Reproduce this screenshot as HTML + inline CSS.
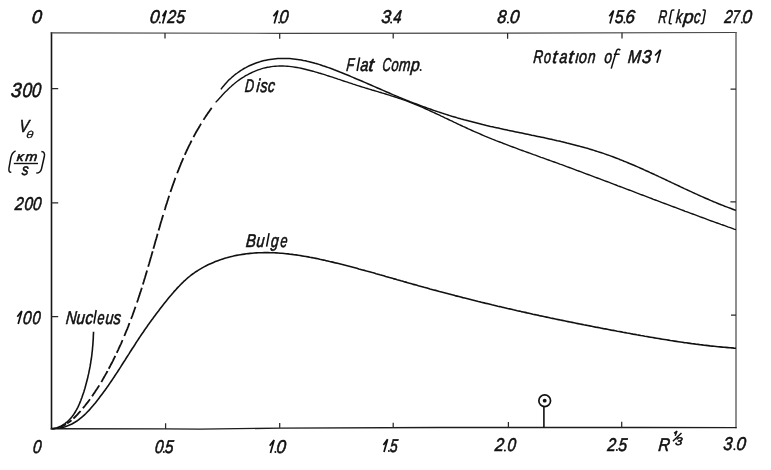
<!DOCTYPE html>
<html><head><meta charset="utf-8"><title>Rotation of M31</title>
<style>
html,body{margin:0;padding:0;background:#fff;}
body{width:771px;height:470px;overflow:hidden;font-family:"Liberation Sans",sans-serif;}
svg{display:block;will-change:transform;}
text{font-family:"Liberation Sans",sans-serif;font-style:italic;fill:#111;stroke:#111;stroke-width:0.6;}
.c{fill:none;stroke:#111;stroke-width:1.8;stroke-linecap:butt;stroke-linejoin:round;}
.f{fill:none;stroke:#333;stroke-width:1;}
</style></head><body>
<svg width="771" height="470" viewBox="0 0 771 470">
<rect width="771" height="470" fill="#fff"/>
<!-- frame -->
<path class="f" d="M51.5 429.5V32.3" style="stroke:#151515;stroke-width:1.6"/>
<path class="f" d="M50.7 32.8 L280 33.3 L507 33.1 L736.7 32.5" style="stroke:#444;stroke-width:1.2"/>
<path class="f" d="M736 32V428.2" style="stroke:#606060;stroke-width:1.4"/>
<path class="f" d="M50.7 428.8 L165 428.9 L200 429.1 L280 428.1 L440 427.5 L640 427.5 L736.7 427.6" style="stroke:#1c1c1c;stroke-width:1.4"/>
<!-- ticks -->
<path class="f" d="M165 33v5.6 M279.7 33.3v5.4 M393.2 33.2v5.4 M507.6 33.1v5.6 M622 32.8v5.6
 M165.6 428.9v-5.6 M279.7 428.1v-5 M393.2 427.7v-5 M508.4 427.5v-5.4 M621.7 427.5v-5.8
 M51.5 88.6h6.7 M51.5 202.9h6.7 M51.5 316.7h6.7
 M736 89.2h-5.5 M736 201.9h-5.6 M736 315.1h-5" style="stroke:#2a2a2a;stroke-width:1.25"/>
<!-- curves -->
<path class="c" d="M52.3 429.0 L53.9 428.7 L55.5 428.3 L57.0 427.8 L58.4 427.2 L59.8 426.6 L61.2 425.9 L62.5 425.2 L63.7 424.4 L65.0 423.6 L66.1 422.7 L67.2 421.8 L68.3 420.8 L69.3 419.8 L70.3 418.7 L71.3 417.6 L72.2 416.5 L73.1 415.3 L73.9 414.1 L74.8 412.8 L75.5 411.5 L76.3 410.2 L77.0 408.9 L77.7 407.6 L78.4 406.2 L79.0 404.8 L79.6 403.4 L80.2 401.9 L80.8 400.5 L81.3 399.0 L81.9 397.6 L82.4 396.1 L82.9 394.6 L83.4 393.2 L83.9 391.7 L84.3 390.2 L84.8 388.7 L85.2 387.2 L85.6 385.7 L86.0 384.3 L86.4 382.8 L86.8 381.3 L87.2 379.8 L87.6 378.3 L87.9 376.8 L88.2 375.4 L88.6 373.9 L88.9 372.4 L89.2 370.9 L89.5 369.4 L89.8 367.9 L90.1 366.4 L90.3 365.0 L90.6 363.5 L90.8 362.0 L91.0 360.5 L91.3 359.0 L91.5 357.5 L91.7 356.0 L91.9 354.5 L92.0 353.0 L92.2 351.5 L92.4 350.0 L92.5 348.5 L92.6 347.0 L92.8 345.5 L92.9 344.0 L93.0 342.5 L93.1 341.0 L93.2 339.4 L93.3 337.9 L93.3 336.4 L93.4 334.9 L93.5 333.4 L93.5 331.8" style="stroke-width:1.6"/>
<path class="c" d="M52.0 428.5 L54.2 428.4 L56.4 428.3 L58.5 428.1 L60.6 427.8 L62.6 427.4 L64.5 426.9 L66.4 426.3 L68.3 425.6 L70.1 424.8 L71.9 424.0 L73.6 423.0 L75.3 422.0 L76.9 421.0 L78.5 419.9 L80.0 418.7 L81.6 417.4 L83.0 416.2 L84.5 414.8 L85.9 413.5 L87.3 412.0 L88.7 410.6 L90.1 409.1 L91.4 407.6 L92.7 406.1 L94.0 404.5 L95.3 403.0 L96.5 401.4 L97.8 399.8 L99.0 398.2 L100.2 396.6 L101.4 395.0 L102.6 393.4 L103.8 391.8 L105.0 390.2 L106.2 388.6 L107.3 386.9 L108.5 385.3 L109.6 383.6 L110.7 382.0 L111.9 380.3 L113.0 378.6 L114.1 377.0 L115.2 375.3 L116.3 373.6 L117.4 372.0 L118.5 370.3 L119.6 368.6 L120.7 366.9 L121.7 365.2 L122.8 363.5 L123.9 361.8 L125.0 360.2 L126.0 358.5 L127.1 356.8 L128.2 355.1 L129.3 353.4 L130.3 351.7 L131.4 350.0 L132.5 348.3 L133.6 346.7 L134.7 345.0 L135.7 343.3 L136.8 341.6 L137.9 340.0 L139.0 338.3 L140.1 336.6 L141.2 335.0 L142.4 333.3 L143.5 331.7 L144.6 330.0 L145.7 328.4 L146.9 326.8 L148.0 325.1 L149.2 323.5 L150.3 321.9 L151.5 320.3 L152.7 318.7 L153.9 317.0 L155.1 315.4 L156.3 313.8 L157.5 312.2 L158.7 310.7 L159.9 309.1 L161.1 307.5 L162.3 305.9 L163.6 304.3 L164.8 302.8 L166.1 301.2 L167.4 299.6 L168.6 298.1 L169.9 296.5 L171.2 295.0 L172.5 293.4 L173.8 291.9 L175.2 290.4 L176.5 288.9 L177.9 287.4 L179.3 286.0 L180.7 284.5 L182.1 283.1 L183.5 281.7 L185.0 280.4 L186.5 279.0 L188.0 277.7 L189.5 276.5 L191.1 275.2 L192.7 274.0 L194.3 272.9 L195.9 271.7 L197.6 270.7 L199.3 269.6 L201.0 268.6 L202.7 267.6 L204.5 266.6 L206.2 265.7 L208.0 264.8 L209.8 264.0 L211.7 263.2 L213.5 262.4 L215.3 261.6 L217.2 260.9 L219.1 260.2 L221.0 259.6 L222.9 258.9 L224.8 258.3 L226.7 257.8 L228.7 257.2 L230.6 256.7 L232.6 256.3 L234.5 255.8 L236.5 255.4 L238.5 255.0 L240.4 254.7 L242.4 254.4 L244.4 254.1 L246.4 253.8 L248.3 253.6 L250.3 253.4 L252.3 253.2 L254.3 253.0 L256.3 252.9 L258.3 252.8 L260.2 252.7 L262.2 252.7 L264.2 252.6 L266.2 252.6 L268.2 252.6 L270.2 252.7 L272.2 252.7 L274.2 252.8 L276.2 252.9 L278.2 253.0 L280.1 253.2 L282.1 253.3 L284.1 253.5 L286.1 253.7 L288.1 253.9 L290.1 254.2 L292.1 254.4 L294.1 254.7 L296.1 254.9 L298.1 255.2 L300.1 255.5 L302.0 255.9 L304.0 256.2 L306.0 256.5 L308.0 256.9 L310.0 257.3 L311.9 257.6 L313.9 258.0 L315.9 258.4 L317.9 258.8 L319.8 259.3 L321.8 259.7 L323.8 260.1 L325.7 260.6 L327.7 261.0 L329.7 261.5 L331.6 261.9 L333.6 262.4 L335.5 262.9 L337.5 263.3 L339.4 263.8 L341.4 264.3 L343.3 264.8 L345.3 265.3 L347.2 265.8 L349.1 266.3 L351.1 266.8 L353.0 267.3 L354.9 267.8 L356.9 268.3 L358.8 268.9 L360.7 269.4 L362.6 269.9 L364.6 270.4 L366.5 271.0 L368.4 271.5 L370.3 272.0 L372.3 272.6 L374.2 273.1 L376.1 273.7 L378.0 274.2 L379.9 274.8 L381.8 275.3 L383.8 275.8 L385.7 276.4 L387.6 276.9 L389.5 277.5 L391.4 278.0 L393.3 278.6 L395.3 279.1 L397.2 279.7 L399.1 280.2 L401.0 280.8 L402.9 281.3 L404.8 281.9 L406.8 282.4 L408.7 283.0 L410.6 283.5 L412.5 284.1 L414.5 284.6 L416.4 285.1 L418.3 285.7 L420.2 286.2 L422.2 286.7 L424.1 287.3 L426.0 287.8 L427.9 288.3 L429.9 288.9 L431.8 289.4 L433.7 289.9 L435.7 290.4 L437.6 290.9 L439.5 291.5 L441.5 292.0 L443.4 292.5 L445.3 293.0 L447.3 293.5 L449.2 294.0 L451.1 294.5 L453.1 295.0 L455.0 295.6 L457.0 296.1 L458.9 296.6 L460.8 297.1 L462.8 297.6 L464.7 298.0 L466.7 298.5 L468.6 299.0 L470.6 299.5 L472.5 300.0 L474.4 300.5 L476.4 301.0 L478.3 301.5 L480.3 301.9 L482.2 302.4 L484.2 302.9 L486.1 303.4 L488.1 303.8 L490.0 304.3 L492.0 304.8 L493.9 305.2 L495.9 305.7 L497.8 306.2 L499.8 306.6 L501.7 307.1 L503.7 307.5 L505.6 308.0 L507.6 308.5 L509.5 308.9 L511.5 309.3 L513.4 309.8 L515.4 310.2 L517.3 310.7 L519.3 311.1 L521.2 311.6 L523.2 312.0 L525.1 312.4 L527.1 312.9 L529.0 313.3 L531.0 313.7 L532.9 314.2 L534.9 314.6 L536.8 315.0 L538.8 315.4 L540.7 315.9 L542.7 316.3 L544.7 316.7 L546.6 317.1 L548.6 317.5 L550.5 318.0 L552.5 318.4 L554.4 318.8 L556.4 319.2 L558.4 319.6 L560.3 320.0 L562.3 320.4 L564.2 320.8 L566.2 321.2 L568.1 321.6 L570.1 322.0 L572.1 322.4 L574.0 322.8 L576.0 323.2 L577.9 323.6 L579.9 324.0 L581.9 324.4 L583.8 324.8 L585.8 325.1 L587.7 325.5 L589.7 325.9 L591.7 326.3 L593.6 326.7 L595.6 327.1 L597.6 327.4 L599.5 327.8 L601.5 328.2 L603.5 328.6 L605.4 328.9 L607.4 329.3 L609.4 329.7 L611.3 330.1 L613.3 330.4 L615.3 330.8 L617.2 331.2 L619.2 331.5 L621.2 331.9 L623.1 332.3 L625.1 332.6 L627.1 333.0 L629.0 333.3 L631.0 333.7 L633.0 334.1 L634.9 334.4 L636.9 334.8 L638.9 335.1 L640.8 335.5 L642.8 335.8 L644.8 336.2 L646.8 336.5 L648.7 336.9 L650.7 337.2 L652.7 337.5 L654.6 337.9 L656.6 338.2 L658.6 338.5 L660.6 338.9 L662.5 339.2 L664.5 339.5 L666.5 339.8 L668.5 340.1 L670.4 340.5 L672.4 340.8 L674.4 341.1 L676.4 341.4 L678.4 341.7 L680.3 342.0 L682.3 342.3 L684.3 342.6 L686.3 342.8 L688.3 343.1 L690.2 343.4 L692.2 343.7 L694.2 343.9 L696.2 344.2 L698.2 344.4 L700.2 344.7 L702.1 344.9 L704.1 345.2 L706.1 345.4 L708.1 345.6 L710.1 345.9 L712.1 346.1 L714.1 346.3 L716.1 346.5 L718.1 346.7 L720.0 346.9 L722.0 347.1 L724.0 347.3 L726.0 347.4 L728.0 347.6 L730.0 347.8 L732.0 347.9 L734.0 348.1 L736.0 348.2" style="stroke-width:1.6"/>
<path class="c" d="M59.9 427.2 L61.2 426.7 L62.6 426.1 L63.9 425.4 L65.2 424.7 L66.0 424.2 M67.2 423.4 L68.4 422.6 L69.6 421.7 L70.8 420.8 L71.5 420.2 M73.4 418.5 L74.5 417.5 L75.5 416.5 L76.6 415.4 L77.6 414.3 L78.6 413.2 L79.6 412.1 L80.6 411.0 M82.9 408.3 L83.8 407.1 L84.8 406.0 L85.7 404.8 L86.6 403.6 L87.6 402.4 L88.5 401.2 L89.4 400.0 L90.0 399.2 M92.0 396.3 L92.9 395.1 L93.7 393.8 L94.6 392.6 L95.4 391.3 L96.2 390.1 L97.1 388.8 L97.9 387.5 L98.7 386.3 L99.2 385.4 M101.3 382.0 L102.1 380.7 L102.8 379.4 L103.6 378.0 L104.3 376.7 L105.1 375.4 L105.8 374.1 L106.6 372.8 L107.3 371.5 L107.5 371.0 M108.7 368.8 L109.4 367.5 L110.1 366.2 L110.8 364.8 L111.5 363.5 L112.2 362.2 L112.9 360.8 L113.5 359.5 L114.2 358.1 L114.9 356.8 L115.3 355.9 M116.8 352.8 L117.4 351.4 L118.1 350.1 L118.7 348.7 L119.3 347.3 L119.9 346.0 L120.6 344.6 L121.2 343.3 L121.8 341.9 L122.4 340.5 L122.6 340.1 M124.3 336.0 L124.9 334.6 L125.5 333.2 L126.0 331.8 L126.6 330.4 L127.2 329.1 L127.7 327.7 L128.3 326.3 L128.8 324.9 L129.3 323.5 L129.5 323.0 M131.1 318.9 L131.6 317.5 L132.2 316.1 L132.7 314.7 L133.2 313.3 L133.7 311.9 L134.2 310.5 L134.7 309.0 L135.2 307.6 L135.5 306.7 M137.0 302.5 L137.5 301.0 L138.0 299.6 L138.4 298.2 L138.9 296.8 L139.4 295.4 L139.8 293.9 L140.3 292.5 L140.8 291.1 L141.2 289.7 L141.7 288.2 L141.8 287.8 M142.9 284.4 L143.3 283.0 L143.8 281.5 L144.2 280.1 L144.6 278.7 L145.1 277.2 L145.5 275.8 L145.9 274.4 L146.4 272.9 L146.8 271.5 L147.1 270.5 M148.2 266.7 L148.6 265.2 L149.1 263.8 L149.5 262.3 L149.9 260.9 L150.3 259.4 L150.7 258.0 L151.2 256.5 L151.6 255.1 L152.0 253.6 L152.4 252.2 L152.7 251.2 M153.4 248.8 L153.8 247.3 L154.2 245.9 L154.6 244.4 L155.0 243.0 L155.4 241.5 L155.8 240.1 L156.3 238.6 L156.7 237.2 L157.1 235.7 L157.5 234.2 L157.6 233.8 M158.6 230.4 L159.0 228.9 L159.5 227.5 L159.9 226.0 L160.3 224.6 L160.7 223.1 L161.1 221.7 L161.6 220.2 L162.0 218.8 L162.4 217.4 L162.9 215.9 L163.2 214.9 M164.6 210.1 L165.1 208.7 L165.5 207.3 L165.9 205.8 L166.4 204.4 L166.9 203.0 L167.3 201.5 L167.8 200.1 L168.2 198.7 L168.7 197.2 L169.2 195.8 M170.4 192.0 L170.9 190.6 L171.4 189.2 L171.9 187.8 L172.4 186.3 L172.9 184.9 L173.4 183.5 L173.9 182.1 L174.4 180.7 L174.9 179.3 L175.4 177.9 M177.2 173.2 L177.7 171.8 L178.3 170.5 L178.8 169.1 L179.4 167.7 L179.9 166.3 L180.5 164.9 L181.0 163.5 L181.6 162.2 L182.2 160.8 L182.8 159.4 L183.4 158.1 M184.8 154.9 L185.4 153.5 L186.0 152.2 L186.6 150.8 L187.3 149.5 L187.9 148.1 L188.5 146.8 L189.2 145.4 L189.9 144.1 L190.5 142.8 L191.2 141.5 L191.6 140.6 M193.5 137.1 L194.2 135.7 L194.9 134.4 L195.6 133.1 L196.3 131.8 L197.1 130.5 L197.8 129.2 L198.6 128.0 L199.3 126.7 L200.1 125.4 L200.8 124.1 L201.1 123.7 M203.5 119.9 L204.3 118.6 L205.1 117.4 L205.9 116.1 L206.8 114.9 L207.6 113.6 L208.5 112.4 L209.3 111.2 L210.2 109.9 L211.1 108.7 L211.7 107.9"/>
<path class="c" d="M215.7 102.4 L217.0 100.9 L218.4 99.4 L219.7 98.0 L221.1 96.5 L222.4 95.0 L223.8 93.5 L225.2 92.1 L226.7 90.7 L228.1 89.2 L229.6 87.8 L231.1 86.5 L232.6 85.1 L234.2 83.8 L235.7 82.5 L237.3 81.3 L238.9 80.1 L240.6 78.9 L242.2 77.8 L243.9 76.8 L245.6 75.7 L247.4 74.8 L249.1 73.8 L250.9 73.0 L252.7 72.1 L254.5 71.3 L256.3 70.6 L258.1 69.9 L260.0 69.3 L261.9 68.7 L263.7 68.2 L265.6 67.7 L267.5 67.3 L269.5 67.0 L271.4 66.6 L273.3 66.4 L275.3 66.2 L277.2 66.1 L279.2 66.0 L281.2 66.0 L283.1 66.0 L285.1 66.1 L287.1 66.2 L289.1 66.4 L291.1 66.6 L293.1 66.9 L295.1 67.2 L297.1 67.5 L299.1 67.9 L301.1 68.3 L303.1 68.7 L305.1 69.2 L307.0 69.7 L309.0 70.2 L311.0 70.7 L313.0 71.2 L315.0 71.8 L316.9 72.4 L318.9 73.0 L320.8 73.5 L322.8 74.1 L324.7 74.7 L326.6 75.4 L328.5 76.0 L330.5 76.6 L332.4 77.2 L334.3 77.8 L336.1 78.4 L338.0 79.1 L339.9 79.7 L341.8 80.3 L343.7 81.0 L345.6 81.6 L347.4 82.2 L349.3 82.8 L351.2 83.4 L353.1 84.1 L355.0 84.7 L356.8 85.3 L358.7 85.9 L360.6 86.5 L362.5 87.1 L364.4 87.7 L366.3 88.3 L368.2 88.8 L370.1 89.4 L372.0 90.0 L374.0 90.5 L375.9 91.1 L377.8 91.7 L379.7 92.3 L381.6 92.8 L383.6 93.4 L385.5 94.0 L387.4 94.6 L389.3 95.2 L391.2 95.8 L393.1 96.4 L395.1 97.0 L397.0 97.6 L398.9 98.3 L400.8 98.9 L402.7 99.6 L404.5 100.2 L406.4 100.9 L408.3 101.6 L410.2 102.4 L412.0 103.1 L413.9 103.8 L415.7 104.6 L417.6 105.4 L419.4 106.1 L421.3 106.9 L423.1 107.7 L424.9 108.5 L426.7 109.3 L428.6 110.1 L430.4 111.0 L432.2 111.8 L434.0 112.6 L435.8 113.5 L437.7 114.3 L439.5 115.2 L441.3 116.1 L443.1 116.9 L444.9 117.8 L446.7 118.6 L448.5 119.5 L450.3 120.4 L452.1 121.2 L453.9 122.1 L455.7 122.9 L457.5 123.8 L459.3 124.7 L461.1 125.5 L463.0 126.4 L464.8 127.2 L466.6 128.0 L468.4 128.9 L470.2 129.7 L472.0 130.5 L473.9 131.3 L475.7 132.1 L477.5 132.9 L479.4 133.7 L481.2 134.5 L483.1 135.3 L484.9 136.1 L486.7 136.8 L488.6 137.6 L490.4 138.3 L492.3 139.1 L494.2 139.8 L496.0 140.6 L497.9 141.3 L499.7 142.0 L501.6 142.7 L503.5 143.5 L505.3 144.2 L507.2 144.9 L509.1 145.6 L510.9 146.3 L512.8 147.0 L514.7 147.7 L516.6 148.4 L518.4 149.1 L520.3 149.8 L522.2 150.5 L524.1 151.2 L526.0 151.8 L527.8 152.5 L529.7 153.2 L531.6 153.9 L533.5 154.6 L535.4 155.2 L537.2 155.9 L539.1 156.6 L541.0 157.3 L542.9 157.9 L544.8 158.6 L546.7 159.3 L548.5 160.0 L550.4 160.7 L552.3 161.3 L554.2 162.0 L556.1 162.7 L558.0 163.4 L559.8 164.1 L561.7 164.7 L563.6 165.4 L565.5 166.1 L567.3 166.8 L569.2 167.5 L571.1 168.2 L573.0 168.9 L574.9 169.6 L576.7 170.3 L578.6 171.0 L580.5 171.7 L582.4 172.4 L584.2 173.1 L586.1 173.8 L588.0 174.5 L589.8 175.2 L591.7 175.9 L593.6 176.6 L595.5 177.3 L597.3 178.0 L599.2 178.7 L601.1 179.4 L603.0 180.1 L604.8 180.8 L606.7 181.5 L608.6 182.2 L610.4 182.9 L612.3 183.6 L614.2 184.3 L616.0 185.0 L617.9 185.8 L619.8 186.5 L621.7 187.2 L623.5 187.9 L625.4 188.6 L627.3 189.3 L629.1 190.0 L631.0 190.7 L632.9 191.4 L634.7 192.1 L636.6 192.9 L638.5 193.6 L640.3 194.3 L642.2 195.0 L644.1 195.7 L645.9 196.4 L647.8 197.1 L649.7 197.8 L651.6 198.5 L653.4 199.3 L655.3 200.0 L657.2 200.7 L659.0 201.4 L660.9 202.1 L662.8 202.8 L664.6 203.5 L666.5 204.2 L668.4 204.9 L670.3 205.6 L672.1 206.3 L674.0 207.0 L675.9 207.7 L677.7 208.4 L679.6 209.1 L681.5 209.8 L683.4 210.5 L685.2 211.3 L687.1 211.9 L689.0 212.6 L690.9 213.3 L692.7 214.0 L694.6 214.7 L696.5 215.4 L698.4 216.1 L700.2 216.8 L702.1 217.5 L704.0 218.2 L705.9 218.9 L707.7 219.6 L709.6 220.3 L711.5 221.0 L713.4 221.6 L715.3 222.3 L717.1 223.0 L719.0 223.7 L720.9 224.4 L722.8 225.0 L724.7 225.7 L726.6 226.4 L728.4 227.1 L730.3 227.7 L732.2 228.4 L734.1 229.1 L736.0 229.7" style="stroke-width:1.4"/>
<path class="c" d="M220.9 89.4 L222.2 87.6 L223.6 85.9 L225.0 84.3 L226.4 82.7 L227.9 81.1 L229.3 79.6 L230.9 78.2 L232.4 76.8 L234.0 75.5 L235.6 74.2 L237.3 73.0 L238.9 71.8 L240.6 70.6 L242.3 69.6 L244.0 68.5 L245.8 67.6 L247.6 66.6 L249.3 65.8 L251.2 65.0 L253.0 64.2 L254.8 63.5 L256.7 62.8 L258.5 62.2 L260.4 61.6 L262.3 61.1 L264.2 60.6 L266.1 60.2 L268.1 59.8 L270.0 59.5 L271.9 59.2 L273.9 59.0 L275.9 58.8 L277.8 58.6 L279.8 58.5 L281.7 58.5 L283.7 58.4 L285.7 58.5 L287.6 58.5 L289.6 58.6 L291.6 58.8 L293.5 59.0 L295.5 59.2 L297.5 59.5 L299.4 59.8 L301.4 60.1 L303.3 60.5 L305.3 60.8 L307.2 61.3 L309.2 61.7 L311.1 62.2 L313.1 62.7 L315.0 63.3 L316.9 63.8 L318.9 64.4 L320.8 65.0 L322.7 65.7 L324.6 66.3 L326.6 67.0 L328.5 67.6 L330.4 68.3 L332.3 69.0 L334.2 69.8 L336.1 70.5 L338.0 71.2 L339.9 72.0 L341.8 72.7 L343.6 73.5 L345.5 74.3 L347.4 75.0 L349.3 75.8 L351.1 76.6 L353.0 77.4 L354.8 78.2 L356.7 79.0 L358.5 79.7 L360.4 80.5 L362.2 81.3 L364.1 82.1 L365.9 82.9 L367.8 83.7 L369.6 84.5 L371.4 85.3 L373.3 86.1 L375.1 86.9 L376.9 87.7 L378.8 88.5 L380.6 89.3 L382.5 90.1 L384.3 90.9 L386.1 91.7 L388.0 92.5 L389.8 93.3 L391.6 94.1 L393.5 94.9 L395.3 95.6 L397.2 96.4 L399.0 97.2 L400.8 97.9 L402.7 98.7 L404.5 99.4 L406.4 100.2 L408.3 100.9 L410.1 101.7 L412.0 102.4 L413.8 103.1 L415.7 103.8 L417.6 104.5 L419.5 105.2 L421.3 105.9 L423.2 106.6 L425.1 107.3 L427.0 108.0 L428.9 108.6 L430.8 109.3 L432.6 110.0 L434.5 110.6 L436.4 111.3 L438.3 111.9 L440.2 112.5 L442.1 113.1 L444.1 113.8 L446.0 114.4 L447.9 115.0 L449.8 115.6 L451.7 116.2 L453.6 116.7 L455.5 117.3 L457.5 117.9 L459.4 118.4 L461.3 119.0 L463.2 119.5 L465.2 120.1 L467.1 120.6 L469.0 121.1 L471.0 121.6 L472.9 122.1 L474.9 122.6 L476.8 123.1 L478.8 123.6 L480.7 124.1 L482.6 124.6 L484.6 125.0 L486.5 125.5 L488.5 125.9 L490.5 126.4 L492.4 126.8 L494.4 127.3 L496.3 127.7 L498.3 128.1 L500.2 128.6 L502.2 129.0 L504.2 129.4 L506.1 129.8 L508.1 130.3 L510.1 130.7 L512.0 131.1 L514.0 131.5 L516.0 131.9 L517.9 132.3 L519.9 132.7 L521.8 133.1 L523.8 133.5 L525.8 133.9 L527.7 134.3 L529.7 134.7 L531.7 135.2 L533.6 135.6 L535.6 136.0 L537.6 136.4 L539.5 136.8 L541.5 137.2 L543.5 137.6 L545.4 138.1 L547.4 138.5 L549.3 138.9 L551.3 139.3 L553.3 139.8 L555.2 140.2 L557.2 140.7 L559.1 141.1 L561.1 141.6 L563.0 142.0 L565.0 142.5 L566.9 143.0 L568.9 143.4 L570.8 143.9 L572.7 144.4 L574.7 144.9 L576.6 145.4 L578.6 145.9 L580.5 146.5 L582.4 147.0 L584.3 147.5 L586.3 148.1 L588.2 148.6 L590.1 149.2 L592.0 149.8 L593.9 150.4 L595.8 151.0 L597.7 151.6 L599.7 152.2 L601.5 152.8 L603.4 153.4 L605.3 154.1 L607.2 154.8 L609.1 155.4 L611.0 156.1 L612.9 156.8 L614.7 157.5 L616.6 158.2 L618.5 158.9 L620.3 159.7 L622.2 160.4 L624.0 161.2 L625.9 161.9 L627.8 162.7 L629.6 163.5 L631.4 164.2 L633.3 165.0 L635.1 165.8 L637.0 166.6 L638.8 167.4 L640.6 168.2 L642.5 169.0 L644.3 169.9 L646.1 170.7 L648.0 171.5 L649.8 172.4 L651.6 173.2 L653.4 174.0 L655.3 174.9 L657.1 175.7 L658.9 176.6 L660.7 177.4 L662.5 178.3 L664.4 179.1 L666.2 180.0 L668.0 180.9 L669.8 181.7 L671.6 182.6 L673.4 183.4 L675.2 184.3 L677.1 185.1 L678.9 186.0 L680.7 186.9 L682.5 187.7 L684.3 188.6 L686.1 189.4 L688.0 190.3 L689.8 191.1 L691.6 191.9 L693.4 192.8 L695.2 193.6 L697.1 194.4 L698.9 195.3 L700.7 196.1 L702.6 196.9 L704.4 197.7 L706.2 198.5 L708.1 199.3 L709.9 200.1 L711.7 200.9 L713.6 201.7 L715.4 202.4 L717.3 203.2 L719.2 204.0 L721.0 204.7 L722.9 205.4 L724.7 206.2 L726.6 206.9 L728.5 207.6 L730.4 208.3 L732.2 209.0 L734.1 209.7 L736.0 210.4" style="stroke-width:1.5"/>
<!-- sun marker -->
<circle cx="544.7" cy="400.7" r="5.85" class="c" style="stroke-width:1.7"/>
<circle cx="544.7" cy="400.7" r="1.9" fill="#111"/>
<path class="c" d="M543.9 406.5V427.6" style="stroke-width:1.6"/>
<!-- labels -->
<text transform="translate(31.50 23.40) skewX(-5)" font-size="18.5" textLength="10.04" lengthAdjust="spacingAndGlyphs">0</text>
<text transform="translate(149.50 23.40) skewX(-5)" font-size="18.5" textLength="9.64" lengthAdjust="spacingAndGlyphs">0</text>
<text transform="translate(167.00 23.40) skewX(-5)" font-size="18.5" textLength="8.56" lengthAdjust="spacingAndGlyphs">2</text>
<text transform="translate(176.00 23.40) skewX(-5)" font-size="18.5" textLength="8.59" lengthAdjust="spacingAndGlyphs">5</text>
<text transform="translate(279.00 23.40) skewX(-5)" font-size="18.5" textLength="9.06" lengthAdjust="spacingAndGlyphs">0</text>
<text transform="translate(381.00 23.40) skewX(-5)" font-size="18.5" textLength="9.58" lengthAdjust="spacingAndGlyphs">3</text>
<text transform="translate(393.00 23.40) skewX(-5)" font-size="18.5" textLength="8.20" lengthAdjust="spacingAndGlyphs">4</text>
<text transform="translate(497.00 23.40) skewX(-5)" font-size="18.5" textLength="9.04" lengthAdjust="spacingAndGlyphs">8</text>
<text transform="translate(509.50 23.40) skewX(-5)" font-size="18.5" textLength="9.54" lengthAdjust="spacingAndGlyphs">0</text>
<text transform="translate(614.50 23.40) skewX(-5)" font-size="18.5" textLength="8.68" lengthAdjust="spacingAndGlyphs">5</text>
<text transform="translate(625.00 23.40) skewX(-5)" font-size="18.5" textLength="9.54" lengthAdjust="spacingAndGlyphs">6</text>
<text transform="translate(658.00 23.20) skewX(-5)" font-size="18.5" textLength="8.56" lengthAdjust="spacingAndGlyphs">R</text>
<text transform="translate(675.50 23.20) skewX(-5)" font-size="18.5" textLength="6.45" lengthAdjust="spacingAndGlyphs">k</text>
<text transform="translate(683.00 23.20) skewX(-5)" font-size="18.5" textLength="10.24" lengthAdjust="spacingAndGlyphs">p</text>
<text transform="translate(693.50 23.20) skewX(-5)" font-size="18.5" textLength="6.65" lengthAdjust="spacingAndGlyphs">c</text>
<text transform="translate(724.00 23.40) skewX(-5)" font-size="18.5" textLength="8.22" lengthAdjust="spacingAndGlyphs">2</text>
<text transform="translate(732.00 23.40) skewX(-5)" font-size="18.5" textLength="7.16" lengthAdjust="spacingAndGlyphs">7</text>
<text transform="translate(742.00 23.40) skewX(-5)" font-size="18.5" textLength="9.54" lengthAdjust="spacingAndGlyphs">0</text>
<text transform="translate(32.50 453.00) skewX(-5)" font-size="18.5" textLength="8.55" lengthAdjust="spacingAndGlyphs">0</text>
<text transform="translate(154.50 453.00) skewX(-5)" font-size="18.5" textLength="8.56" lengthAdjust="spacingAndGlyphs">0</text>
<text transform="translate(164.50 453.00) skewX(-5)" font-size="18.5" textLength="8.59" lengthAdjust="spacingAndGlyphs">5</text>
<text transform="translate(276.00 453.00) skewX(-5)" font-size="18.5" textLength="9.55" lengthAdjust="spacingAndGlyphs">0</text>
<text transform="translate(389.50 452.10) skewX(-5)" font-size="18.5" textLength="7.78" lengthAdjust="spacingAndGlyphs">5</text>
<text transform="translate(494.50 451.40) skewX(-5)" font-size="18.5" textLength="9.13" lengthAdjust="spacingAndGlyphs">2</text>
<text transform="translate(507.00 451.40) skewX(-5)" font-size="18.5" textLength="8.59" lengthAdjust="spacingAndGlyphs">0</text>
<text transform="translate(607.00 450.90) skewX(-5)" font-size="18.5" textLength="8.60" lengthAdjust="spacingAndGlyphs">2</text>
<text transform="translate(618.00 450.90) skewX(-5)" font-size="18.5" textLength="8.68" lengthAdjust="spacingAndGlyphs">5</text>
<text transform="translate(658.00 450.50) skewX(-5)" font-size="18.5" textLength="11.54" lengthAdjust="spacingAndGlyphs">R</text>
<text transform="translate(675.00 444.80) skewX(-5)" font-size="11.2" textLength="7.08" lengthAdjust="spacingAndGlyphs">3</text>
<text transform="translate(723.00 450.20) skewX(-5)" font-size="18.5" textLength="9.04" lengthAdjust="spacingAndGlyphs">3</text>
<text transform="translate(736.00 450.20) skewX(-5)" font-size="18.5" textLength="9.54" lengthAdjust="spacingAndGlyphs">0</text>
<text transform="translate(10.50 96.60) skewX(-5)" font-size="20.2" textLength="10.57" lengthAdjust="spacingAndGlyphs">3</text>
<text transform="translate(22.00 96.60) skewX(-5)" font-size="20.2" textLength="9.51" lengthAdjust="spacingAndGlyphs">0</text>
<text transform="translate(31.50 96.60) skewX(-5)" font-size="20.2" textLength="9.13" lengthAdjust="spacingAndGlyphs">0</text>
<text transform="translate(14.50 210.40) skewX(-5)" font-size="18.5" textLength="8.68" lengthAdjust="spacingAndGlyphs">2</text>
<text transform="translate(24.00 210.40) skewX(-5)" font-size="18.5" textLength="8.51" lengthAdjust="spacingAndGlyphs">0</text>
<text transform="translate(32.50 210.40) skewX(-5)" font-size="18.5" textLength="8.51" lengthAdjust="spacingAndGlyphs">0</text>
<text transform="translate(22.50 323.90) skewX(-5)" font-size="18.5" textLength="8.56" lengthAdjust="spacingAndGlyphs">0</text>
<text transform="translate(32.00 323.90) skewX(-5)" font-size="18.5" textLength="8.14" lengthAdjust="spacingAndGlyphs">0</text>
<text transform="translate(65.50 323.60) skewX(-5)" font-size="18.5" textLength="10.65" lengthAdjust="spacingAndGlyphs">N</text>
<text transform="translate(76.00 323.60) skewX(-5)" font-size="18.5" textLength="8.56" lengthAdjust="spacingAndGlyphs">u</text>
<text transform="translate(85.00 323.60) skewX(-5)" font-size="18.5" textLength="7.67" lengthAdjust="spacingAndGlyphs">c</text>
<text transform="translate(97.00 323.60) skewX(-5)" font-size="18.5" textLength="7.08" lengthAdjust="spacingAndGlyphs">e</text>
<text transform="translate(105.00 323.60) skewX(-5)" font-size="18.5" textLength="8.05" lengthAdjust="spacingAndGlyphs">u</text>
<text transform="translate(113.00 323.60) skewX(-5)" font-size="18.5" textLength="7.63" lengthAdjust="spacingAndGlyphs">s</text>
<text transform="translate(245.50 246.70) skewX(-5)" font-size="18.5" textLength="10.04" lengthAdjust="spacingAndGlyphs">B</text>
<text transform="translate(256.00 246.70) skewX(-5)" font-size="18.5" textLength="8.13" lengthAdjust="spacingAndGlyphs">u</text>
<text transform="translate(270.50 246.70) skewX(-5)" font-size="18.5" textLength="7.81" lengthAdjust="spacingAndGlyphs">g</text>
<text transform="translate(280.00 246.70) skewX(-5)" font-size="18.5" textLength="7.07" lengthAdjust="spacingAndGlyphs">e</text>
<text transform="translate(244.50 91.50) skewX(-5)" font-size="18.5" textLength="9.13" lengthAdjust="spacingAndGlyphs">D</text>
<text transform="translate(256.00 91.50) skewX(-5)" font-size="18.5" textLength="3.32" lengthAdjust="spacingAndGlyphs">i</text>
<text transform="translate(260.00 91.50) skewX(-5)" font-size="18.5" textLength="7.19" lengthAdjust="spacingAndGlyphs">s</text>
<text transform="translate(267.50 91.50) skewX(-5)" font-size="18.5" textLength="7.06" lengthAdjust="spacingAndGlyphs">c</text>
<text transform="translate(346.00 71.00) skewX(-5)" font-size="18.5" textLength="7.58" lengthAdjust="spacingAndGlyphs">F</text>
<text transform="translate(360.00 71.00) skewX(-5)" font-size="18.5" textLength="8.06" lengthAdjust="spacingAndGlyphs">a</text>
<text transform="translate(368.00 71.00) skewX(-5)" font-size="18.5" textLength="5.44" lengthAdjust="spacingAndGlyphs">t</text>
<text transform="translate(382.00 71.00) skewX(-5)" font-size="18.5" textLength="8.59" lengthAdjust="spacingAndGlyphs">C</text>
<text transform="translate(391.00 71.00) skewX(-5)" font-size="18.5" textLength="7.21" lengthAdjust="spacingAndGlyphs">o</text>
<text transform="translate(398.50 71.00) skewX(-5)" font-size="18.5" textLength="11.54" lengthAdjust="spacingAndGlyphs">m</text>
<text transform="translate(410.50 71.00) skewX(-5)" font-size="18.5" textLength="8.81" lengthAdjust="spacingAndGlyphs">p</text>
<text transform="translate(533.00 62.70) skewX(-5)" font-size="18.5" textLength="9.58" lengthAdjust="spacingAndGlyphs">R</text>
<text transform="translate(543.50 62.70) skewX(-5)" font-size="18.5" textLength="7.08" lengthAdjust="spacingAndGlyphs">o</text>
<text transform="translate(552.00 62.70) skewX(-5)" font-size="18.5" textLength="4.93" lengthAdjust="spacingAndGlyphs">t</text>
<text transform="translate(559.00 62.70) skewX(-5)" font-size="18.5" textLength="8.05" lengthAdjust="spacingAndGlyphs">a</text>
<text transform="translate(568.00 62.70) skewX(-5)" font-size="18.5" textLength="5.21" lengthAdjust="spacingAndGlyphs">t</text>
<text transform="translate(575.00 62.70) skewX(-5)" font-size="18.5" textLength="3.20" lengthAdjust="spacingAndGlyphs">ι</text>
<text transform="translate(578.50 62.70) skewX(-5)" font-size="18.5" textLength="8.06" lengthAdjust="spacingAndGlyphs">o</text>
<text transform="translate(587.50 62.70) skewX(-5)" font-size="18.5" textLength="7.60" lengthAdjust="spacingAndGlyphs">n</text>
<text transform="translate(604.00 62.70) skewX(-5)" font-size="18.5" textLength="7.63" lengthAdjust="spacingAndGlyphs">o</text>
<text transform="translate(627.50 62.70) skewX(-5)" font-size="18.5" textLength="13.07" lengthAdjust="spacingAndGlyphs">M</text>
<text transform="translate(641.50 62.70) skewX(-5)" font-size="18.5" textLength="9.61" lengthAdjust="spacingAndGlyphs">3</text>
<text transform="translate(19.00 132.00) skewX(-5)" font-size="17.5" textLength="9.55" lengthAdjust="spacingAndGlyphs">V</text>
<text transform="translate(26.00 137.70) skewX(-5)" font-size="10" textLength="7.07" lengthAdjust="spacingAndGlyphs" style="stroke-width:0.2">θ</text>
<text transform="translate(16.50 160.90) skewX(-5)" font-size="12.8" textLength="6.78" lengthAdjust="spacingAndGlyphs">κ</text>
<text transform="translate(25.00 160.90) skewX(-5)" font-size="12.8" textLength="12.05" lengthAdjust="spacingAndGlyphs">m</text>
<text transform="translate(21.50 174.60) skewX(-5)" font-size="16" textLength="6.72" lengthAdjust="spacingAndGlyphs">s</text>
<path d="M96.2 310.0 L93.9 323.6" style="fill:none;stroke:#111;stroke-width:1.6"/>
<path d="M269.1 233.1 L266.6 246.7" style="fill:none;stroke:#111;stroke-width:1.6"/>
<path d="M359.6 57.4 L357.1 71.0" style="fill:none;stroke:#111;stroke-width:1.6"/>
<path d="M162.6 16.2 L166.3 10.5 L162.7 23.4" style="fill:none;stroke:#111;stroke-width:1.7;stroke-linejoin:miter"/>
<path d="M273.4 16.2 L277.9 10.5 L274.3 23.4" style="fill:none;stroke:#111;stroke-width:1.7;stroke-linejoin:miter"/>
<path d="M609.3 16.2 L613.6 10.5 L610.0 23.4" style="fill:none;stroke:#111;stroke-width:1.7;stroke-linejoin:miter"/>
<path d="M269.7 445.8 L274.1 440.1 L270.5 453.0" style="fill:none;stroke:#111;stroke-width:1.7;stroke-linejoin:miter"/>
<path d="M383.4 444.9 L387.6 439.2 L384.0 452.1" style="fill:none;stroke:#111;stroke-width:1.7;stroke-linejoin:miter"/>
<path d="M17.3 316.7 L21.8 311.0 L18.2 323.9" style="fill:none;stroke:#111;stroke-width:1.7;stroke-linejoin:miter"/>
<path d="M655.1 55.5 L660.6 49.8 L657.0 62.7" style="fill:none;stroke:#111;stroke-width:1.7;stroke-linejoin:miter"/>
<circle cx="159.8" cy="22.4" r="1.0" fill="#111"/>
<circle cx="279.1" cy="22.4" r="1.0" fill="#111"/>
<circle cx="391.1" cy="22.4" r="1.0" fill="#111"/>
<circle cx="507.9" cy="22.4" r="1.0" fill="#111"/>
<circle cx="624.4" cy="22.4" r="1.0" fill="#111"/>
<circle cx="741.8" cy="22.4" r="1.0" fill="#111"/>
<circle cx="163.8" cy="452.0" r="1.0" fill="#111"/>
<circle cx="275.4" cy="452.0" r="1.0" fill="#111"/>
<circle cx="388.9" cy="451.1" r="1.0" fill="#111"/>
<circle cx="504.9" cy="450.4" r="1.0" fill="#111"/>
<circle cx="616.9" cy="449.9" r="1.0" fill="#111"/>
<circle cx="734.4" cy="449.2" r="1.0" fill="#111"/>
<circle cx="420.6" cy="70.0" r="1.0" fill="#111"/>

<!-- custom f of "of" -->
<path class="f" d="M620.3 50.2 C619 48.7 616.9 49 616.2 51.6 L611.2 68.6 M613.9 54.2 H619.6" style="stroke:#111;stroke-width:1.55"/>
<!-- parens of R(kpc) -->
<path class="f" d="M674.4 9.9 L672.9 9.9 Q671.6 9.9 671.3 11.3 L669.3 22 Q669 23.7 670.4 23.7 L671.7 23.7" style="stroke:#111;stroke-width:1.5"/>
<path class="f" d="M702.6 9.9 L704.2 9.9 Q705.5 9.9 705.2 11.3 L703.3 22 Q703 23.7 701.7 23.7 L700.6 23.7" style="stroke:#111;stroke-width:1.5"/>
<!-- R^(1/3) exponent -->
<path class="f" d="M674.1 433.3 L677 431 L675.2 435.7" style="stroke:#111;stroke-width:1.5;stroke-linejoin:bevel"/>
<path class="f" d="M681.5 433 L672.9 441.3" style="stroke:#111;stroke-width:1.5"/>
<!-- (km/s) -->
<path class="f" d="M13.8 163.5H38" style="stroke:#111;stroke-width:1.4"/>
<path class="f" d="M15.6 150.9 C12.6 152.3 11.3 155.4 10.8 158 L9 168 C8.5 171.2 9.3 172.4 11.3 172.3" style="stroke:#111;stroke-width:1.5"/>
<path class="f" d="M41.4 151.4 C44 151.7 44.9 153.4 44.4 156 L41.5 168.8 C40.8 171.8 39 173 36.3 173" style="stroke:#111;stroke-width:1.5"/>
</svg>
</body></html>
